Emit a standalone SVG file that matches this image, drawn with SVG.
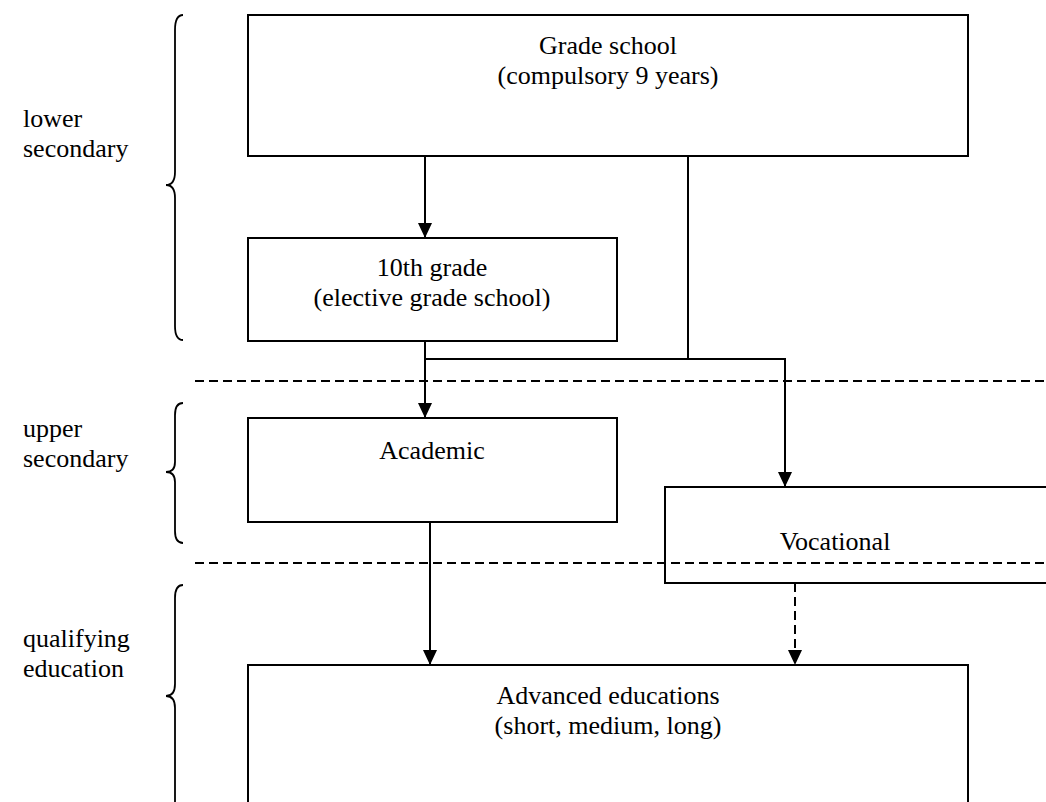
<svg xmlns="http://www.w3.org/2000/svg" width="1046" height="802" viewBox="0 0 1046 802">
<defs>
<style>
.box{fill:none;stroke:#000;stroke-width:2}
text{font-family:"Liberation Serif","DejaVu Serif","Times New Roman",serif;font-size:26px;fill:#000}
.c{text-anchor:middle}
.ln{fill:none;stroke:#000;stroke-width:2}
.dash{fill:none;stroke:#000;stroke-width:2;stroke-dasharray:9 5}
.brace{fill:none;stroke:#000;stroke-width:1.8}
</style>
<marker id="ah" markerWidth="15" markerHeight="14" refX="15" refY="7" orient="auto" markerUnits="userSpaceOnUse" viewBox="0 0 15 14">
<path d="M0,0 L15,7 L0,14 Z" fill="#000"/>
</marker>
</defs>
<rect width="1046" height="802" fill="#fff"/>
<g id="braces">
<path class="brace" d="M183,15 Q175,15 175,30 L175,172 Q175,185 166,185 Q175,185 175,198 L175,326 Q175,340 183,340"/>
<path class="brace" d="M183,403 Q175,403 175,415 L175,462 Q175,472 166,472 Q175,472 175,482 L175,531 Q175,543 183,543"/>
<path class="brace" d="M183,585 Q175,585 175,598 L175,684 Q175,696 166,696 Q175,696 175,708 L175,810"/>
</g>
<g id="labels">
<text x="23" y="127">lower</text>
<text x="23" y="157">secondary</text>
<text x="23" y="437">upper</text>
<text x="23" y="467">secondary</text>
<text x="23" y="647">qualifying</text>
<text x="23" y="677">education</text>
</g>
<g id="connectors">
<line class="ln" x1="425" y1="156" x2="425" y2="238" marker-end="url(#ah)"/>
<polyline class="ln" points="688,156 688,359"/>
<polyline class="ln" points="425,341 425,418" marker-end="url(#ah)"/>
<polyline class="ln" points="425,359 785,359 785,487" marker-end="url(#ah)"/>
<line class="ln" x1="430" y1="522" x2="430" y2="665" marker-end="url(#ah)"/>
<line class="dash" x1="795" y1="583" x2="795" y2="665" marker-end="url(#ah)"/>
</g>
<g id="grade-school">
<rect class="box" x="248" y="15" width="720" height="141"/>
<text class="c" x="608" y="54">Grade school</text>
<text class="c" x="608" y="84">(compulsory 9 years)</text>
</g>
<g id="tenth-grade">
<rect class="box" x="248" y="238" width="369" height="103"/>
<text class="c" x="432" y="276">10th grade</text>
<text class="c" x="432" y="306">(elective grade school)</text>
</g>
<g id="academic">
<rect class="box" x="248" y="418" width="369" height="104"/>
<text class="c" x="432" y="459">Academic</text>
</g>
<g id="vocational">
<rect class="box" x="665" y="487" width="400" height="96"/>
<text class="c" x="835" y="550">Vocational</text>
</g>
<g id="advanced">
<rect class="box" x="248" y="665" width="720" height="160"/>
<text class="c" x="608" y="704">Advanced educations</text>
<text class="c" x="608" y="734">(short, medium, long)</text>
</g>
<g id="separators">
<line class="dash" x1="195" y1="381" x2="1046" y2="381"/>
<line class="dash" x1="195" y1="563" x2="1046" y2="563"/>
</g>
</svg>
